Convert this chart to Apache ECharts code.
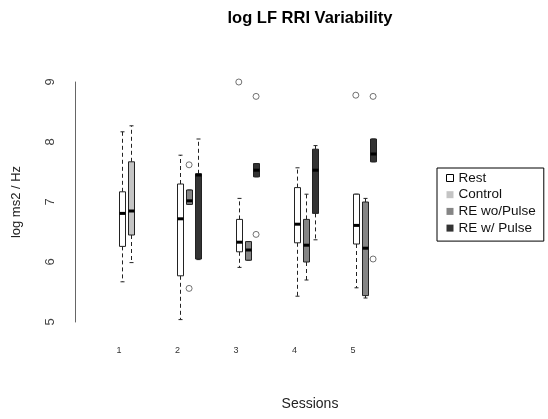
<!DOCTYPE html>
<html>
<head>
<meta charset="utf-8">
<script src="https://cdn.jsdelivr.net/npm/echarts@6/dist/echarts.min.js"></script>
<style>
  html, body { margin: 0; padding: 0; background: #fff; }
  #chart { width: 548px; height: 419px; }
</style>
</head>
<body>
<div id="chart"></div>
<script>
// session numbers on the x axis
const sessions = [1, 2, 3, 4, 5];

// box stats per session: [low whisker, Q1, median, Q3, high whisker], null = not measured
const restStats = [
  [5.67, 6.26, 6.81, 7.17, 8.17],
  [5.04, 5.77, 6.72, 7.30, 7.78],
  [5.91, 6.17, 6.33, 6.71, 7.06],
  [5.43, 6.32, 6.63, 7.24, 7.57],
  [5.57, 6.30, 6.61, 7.13, 7.13]
];
const controlStats = [
  [5.99, 6.45, 6.85, 7.67, 8.27],
  null, null, null, null
];
const reWoPulseStats = [
  null,
  [6.96, 6.96, 7.02, 7.20, 7.20],
  [6.03, 6.03, 6.20, 6.34, 6.34],
  [5.70, 6.00, 6.28, 6.71, 7.13],
  [5.40, 5.44, 6.23, 7.00, 7.06]
];
const reWPulseStats = [
  null,
  [6.04, 6.05, 7.45, 7.47, 8.05],
  [7.42, 7.42, 7.53, 7.64, 7.64],
  [6.37, 6.81, 7.53, 7.88, 7.94],
  [7.67, 7.67, 7.80, 8.05, 8.05]
];

// outliers: [session, value]
const restOutliers = [[3, 9.0], [5, 8.78]];
const controlOutliers = [];
const reWoPulseOutliers = [[2, 7.62], [2, 5.56]];
const reWPulseOutliers = [[3, 8.76], [3, 6.46], [5, 8.76], [5, 6.05]];

const groups = [
  { name: 'Rest', stats: restStats, outliers: restOutliers, offset: 0.05, fill: '#ffffff' },
  { name: 'Control', stats: controlStats, outliers: controlOutliers, offset: 0.2, fill: '#c4c4c4' },
  { name: 'RE wo/Pulse', stats: reWoPulseStats, outliers: reWoPulseOutliers, offset: 0.2, fill: '#858585' },
  { name: 'RE w/ Pulse', stats: reWPulseStats, outliers: reWPulseOutliers, offset: 0.345, fill: '#333333' }
];

const EDGE = '#222';

function boxRenderer(offset, fill) {
  return function (params, api) {
    const x = api.value(0) + offset;
    const lo = api.coord([x, api.value(1)]);
    const q1 = api.coord([x, api.value(2)]);
    const md = api.coord([x, api.value(3)]);
    const q3 = api.coord([x, api.value(4)]);
    const hi = api.coord([x, api.value(5)]);
    const cx = Math.round(lo[0]) + 0.5;
    const half = 3;
    const dash = { stroke: EDGE, lineWidth: 1, lineDash: [4, 3] };
    const solid = { stroke: EDGE, lineWidth: 1 };
    return {
      type: 'group',
      children: [
        { type: 'line', shape: { x1: cx, y1: q3[1], x2: cx, y2: hi[1] }, style: dash },
        { type: 'line', shape: { x1: cx, y1: q1[1], x2: cx, y2: lo[1] }, style: dash },
        { type: 'line', shape: { x1: cx - 2, y1: hi[1], x2: cx + 2, y2: hi[1] }, style: solid },
        { type: 'line', shape: { x1: cx - 2, y1: lo[1], x2: cx + 2, y2: lo[1] }, style: solid },
        { type: 'rect', shape: { x: cx - half, y: q3[1], width: half * 2, height: q1[1] - q3[1] },
          style: { fill: fill, stroke: EDGE, lineWidth: 1 } },
        { type: 'rect', shape: { x: cx - half, y: md[1] - 1.5, width: half * 2, height: 3 },
          style: { fill: '#000' } }
      ]
    };
  };
}

const series = [];
groups.forEach(g => {
  const data = [];
  g.stats.forEach((s, i) => {
    if (s) data.push([sessions[i]].concat(s));
  });
  series.push({
    name: g.name,
    type: 'custom',
    renderItem: boxRenderer(g.offset, g.fill),
    itemStyle: { color: g.fill },
    encode: { x: 0, y: [1, 2, 3, 4, 5] },
    data: data,
    z: 2
  });
  if (g.outliers.length) {
    series.push({
      name: g.name + ' outliers',
      type: 'scatter',
      symbol: 'circle',
      symbolSize: 6,
      itemStyle: { color: '#fff', borderColor: '#222', borderWidth: 0.8 },
      data: g.outliers.map(p => [p[0] + g.offset, p[1]]),
      silent: true,
      z: 3
    });
  }
});

const chart = echarts.init(document.getElementById('chart'), null, { renderer: 'canvas' });
chart.setOption({
  animation: false,
  backgroundColor: '#fff',
  textStyle: { fontFamily: 'Liberation Sans, Arial, sans-serif' },
  grid: { left: 75, top: 82, width: 336.4, height: 240, containLabel: false, outerBoundsMode: 'none' },
  xAxis: {
    type: 'value',
    min: 0.25,
    max: 6,
    axisLine: { show: false },
    axisTick: { show: false },
    splitLine: { show: false },
    axisLabel: {
      customValues: sessions,
      formatter: v => (Number.isInteger(v) && v >= 1 && v <= 5 ? String(v) : ''),
      fontSize: 9,
      color: '#333',
      margin: 24
    }
  },
  yAxis: {
    type: 'value',
    min: 5,
    max: 9,
    interval: 1,
    name: 'log ms2 / Hz',
    nameLocation: 'middle',
    nameGap: 52,
    nameTextStyle: { fontSize: 13, color: '#222' },
    axisLine: { show: true, lineStyle: { color: '#666', width: 1 } },
    axisTick: { show: false },
    splitLine: { show: false },
    axisLabel: { rotate: 90, fontSize: 13, color: '#444', margin: 18 }
  },
  legend: {
    orient: 'vertical',
    left: 437,
    top: 168,
    padding: [2, 8, 5, 9],
    borderColor: '#000',
    borderWidth: 1,
    itemWidth: 7,
    itemHeight: 7,
    itemGap: 0.7,
    icon: 'rect',
    textStyle: { fontSize: 13.5, color: '#111', lineHeight: 16 },
    data: [
      { name: 'Rest', itemStyle: { color: '#fff', borderColor: '#000', borderWidth: 1 } },
      { name: 'Control', itemStyle: { color: '#c4c4c4' } },
      { name: 'RE wo/Pulse', itemStyle: { color: '#858585' } },
      { name: 'RE w/ Pulse', itemStyle: { color: '#333' } }
    ],
    selectedMode: false
  },
  graphic: [
    { type: 'text', x: 310, y: 18,
      style: { text: 'log LF RRI Variability', font: 'bold 16.5px Liberation Sans, Arial, sans-serif',
        fill: '#000', align: 'center', verticalAlign: 'middle' } },
    { type: 'text', x: 310, y: 404,
      style: { text: 'Sessions', font: '14px Liberation Sans, Arial, sans-serif',
        fill: '#222', align: 'center', verticalAlign: 'middle' } }
  ],
  series: series
});
</script>
</body>
</html>
